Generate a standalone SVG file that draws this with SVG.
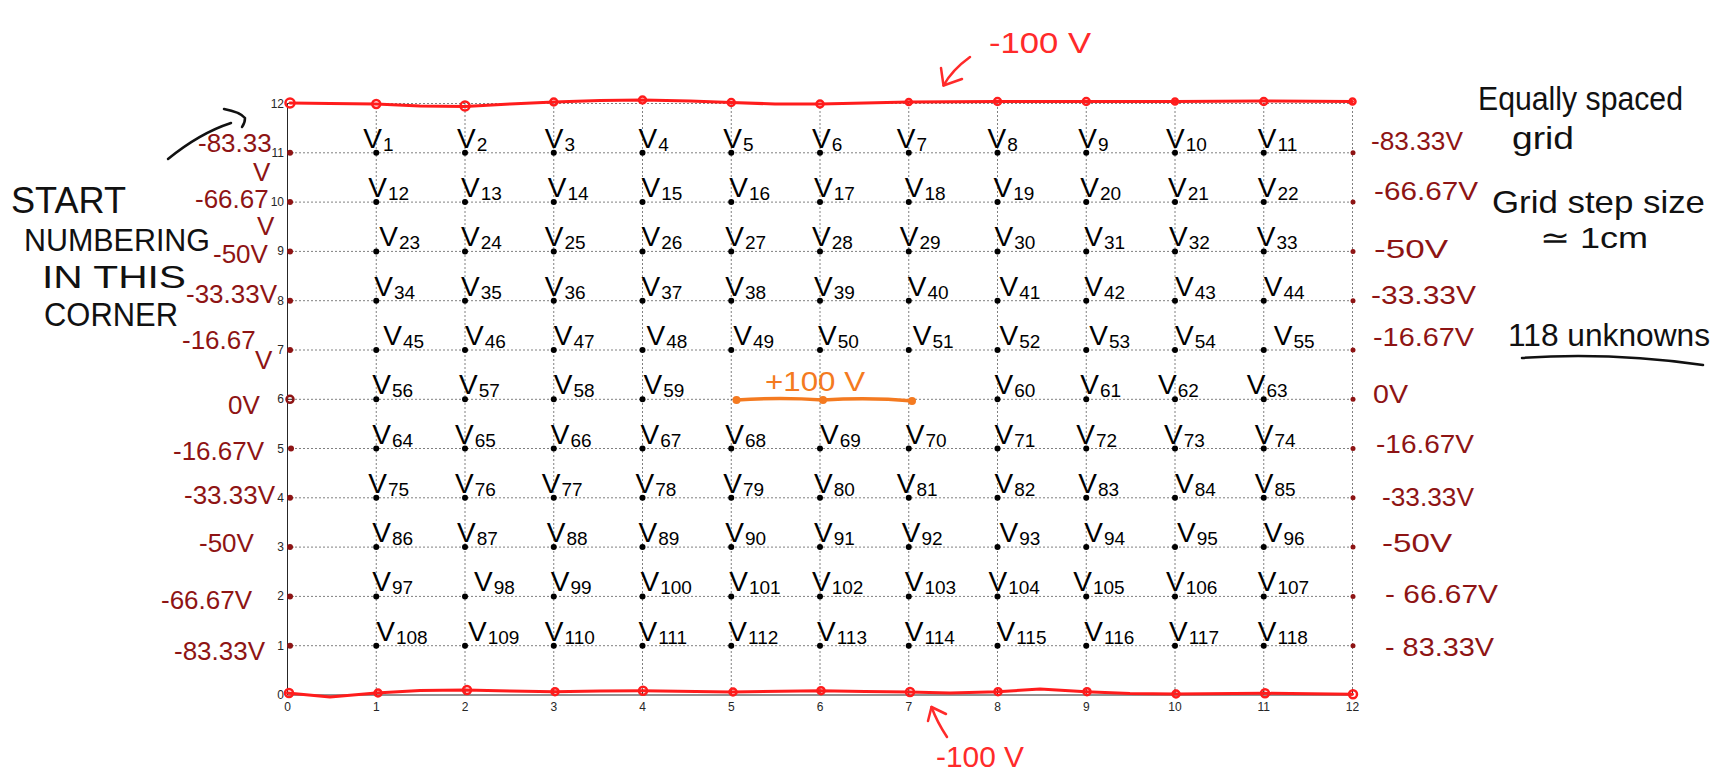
<svg xmlns="http://www.w3.org/2000/svg" width="1727" height="780" viewBox="0 0 1727 780">
<style>
.g{stroke:#000;stroke-width:1;stroke-dasharray:1 3;fill:none}
.ax{stroke:#262626;stroke-width:1;fill:none}
.tk{font-family:"Liberation Sans",Arial,sans-serif;font-size:12px;fill:#262626}
.tr{text-anchor:end}
.tc{text-anchor:middle}
.bnd{stroke:#ff1c1c;stroke-width:3;fill:none;stroke-linejoin:round;stroke-linecap:round}
.bc{stroke:#ff1c1c;stroke-width:2.5;fill:none}
.dr{fill:#8e1414}
.drt{font-family:"Liberation Sans",Arial,sans-serif;font-size:26px;fill:#8e1414}
.nd{fill:#000}
.vl{font-family:"Liberation Sans",Arial,sans-serif;font-size:28px;fill:#000}
.sb{font-size:19px}
.hw{font-family:"Liberation Sans",Arial,sans-serif;fill:#111}
.rt{font-family:"Liberation Sans",Arial,sans-serif;font-size:30px;fill:#ff2a2a}
.ot{font-family:"Liberation Sans",Arial,sans-serif;font-size:28px;fill:#f47a20}
.ar{stroke:#ff2a2a;stroke-width:2.5;fill:none;stroke-linecap:round;stroke-linejoin:round}
.ak{stroke:#111;stroke-width:2.5;fill:none;stroke-linecap:round;stroke-linejoin:round}
</style>
<rect width="1727" height="780" fill="#fff"/>

<g id="grid">
<path class="g" d="M376.25,103.5V695M465,103.5V695M553.75,103.5V695M642.5,103.5V695M731.25,103.5V695M820,103.5V695M908.75,103.5V695M997.5,103.5V695M1086.25,103.5V695M1175,103.5V695M1263.75,103.5V695M1352.5,103.5V695"/>
<path class="g" d="M287.5,645.7H1352.5M287.5,596.4H1352.5M287.5,547.1H1352.5M287.5,497.8H1352.5M287.5,448.5H1352.5M287.5,399.3H1352.5M287.5,350H1352.5M287.5,300.7H1352.5M287.5,251.4H1352.5M287.5,202.1H1352.5M287.5,152.8H1352.5M287.5,103.5H1352.5"/>
</g>

<g id="axes">
<path class="ax" d="M287.5,103.5V695H1352.5"/>
<path class="ax" d="M376.25,695v-6M465,695v-6M553.75,695v-6M642.5,695v-6M731.25,695v-6M820,695v-6M908.75,695v-6M997.5,695v-6M1086.25,695v-6M1175,695v-6M1263.75,695v-6M1352.5,695v-6"/>
<path class="ax" d="M287.5,645.7h6M287.5,596.4h6M287.5,547.1h6M287.5,497.8h6M287.5,448.5h6M287.5,399.3h6M287.5,350h6M287.5,300.7h6M287.5,251.4h6M287.5,202.1h6M287.5,152.8h6M287.5,103.5h6"/>
<g class="tk tr">
<text x="284" y="699">0</text><text x="284" y="649.7">1</text><text x="284" y="600.4">2</text><text x="284" y="551.1">3</text><text x="284" y="501.8">4</text><text x="284" y="452.5">5</text><text x="284" y="403.3">6</text><text x="284" y="354">7</text><text x="284" y="304.7">8</text><text x="284" y="255.4">9</text><text x="284" y="206.1">10</text><text x="284" y="156.8">11</text><text x="284" y="107.5">12</text>
</g>
<g class="tk tc">
<text x="287.5" y="711">0</text><text x="376.25" y="711">1</text><text x="465" y="711">2</text><text x="553.75" y="711">3</text><text x="642.5" y="711">4</text><text x="731.25" y="711">5</text><text x="820" y="711">6</text><text x="908.75" y="711">7</text><text x="997.5" y="711">8</text><text x="1086.25" y="711">9</text><text x="1175" y="711">10</text><text x="1263.75" y="711">11</text><text x="1352.5" y="711">12</text>
</g>
</g>

<g id="top-boundary">
<path class="bnd" d="M290,103 L330,103.5 L376,104 L420,106 L465,106.5 L510,104 L554,102 L600,100.5 L642.5,100 L690,101 L731,102.5 L775,104 L820,104 L865,103 L908.8,102 L950,101.8 L997.5,101.5 L1086,101.5 L1175,101.5 L1264,101 L1352.5,101.5"/>
<circle class="bc" cx="290" cy="103" r="4.5"/><circle class="bc" cx="376.25" cy="104" r="4"/><circle class="bc" cx="465" cy="106" r="4.5"/><circle class="bc" cx="553.75" cy="102" r="3.5"/><circle class="bc" cx="642.5" cy="100" r="3.5"/><circle class="bc" cx="731.25" cy="102.5" r="3.5"/><circle class="bc" cx="820" cy="104" r="3.5"/><circle class="bc" cx="908.75" cy="102" r="3"/><circle class="bc" cx="997.5" cy="101.5" r="3.5"/><circle class="bc" cx="1086.25" cy="101.5" r="3.5"/><circle class="bc" cx="1175" cy="101.5" r="3"/><circle class="bc" cx="1263.75" cy="101.5" r="3.5"/><circle class="bc" cx="1352.5" cy="101.5" r="3"/>
</g>

<g id="bottom-boundary">
<path class="bnd" d="M287.5,693 L330,697 L376,693 L420,690.5 L465,690 L510,691 L554,691.7 L600,691 L642.5,690.7 L731,692 L820,690.7 L865,691.5 L908.8,692 L950,693 L997.5,691.7 L1040,689 L1086,691.7 L1130,693.5 L1175,694 L1264,693.3 L1352.5,694.3"/>
<circle class="bc" cx="289" cy="693" r="4"/><circle class="bc" cx="378" cy="693" r="3.5"/><circle class="bc" cx="467" cy="690" r="4"/><circle class="bc" cx="555" cy="691.7" r="3.5"/><circle class="bc" cx="643" cy="690.7" r="4"/><circle class="bc" cx="733" cy="692" r="3.5"/><circle class="bc" cx="821" cy="690.7" r="3.5"/><circle class="bc" cx="910" cy="692" r="4"/><circle class="bc" cx="998" cy="691.7" r="3.5"/><circle class="bc" cx="1087" cy="691.7" r="3.5"/><circle class="bc" cx="1176" cy="694" r="3.5"/><circle class="bc" cx="1265" cy="693.3" r="4"/><circle class="bc" cx="1353" cy="694.3" r="4"/>
</g>

<g id="left-boundary">
<circle class="dr" cx="290" cy="152.8" r="3"/><circle class="dr" cx="290" cy="202.1" r="3"/><circle class="dr" cx="290" cy="251.4" r="3"/><circle class="dr" cx="290" cy="300.7" r="3"/><circle class="dr" cx="290" cy="350" r="3"/><circle cx="290" cy="399.3" r="3.5" fill="none" stroke="#8e1414" stroke-width="2.5"/><circle class="dr" cx="291" cy="448.5" r="3"/><circle class="dr" cx="290" cy="497.8" r="3"/><circle class="dr" cx="290" cy="547.1" r="3"/><circle class="dr" cx="290" cy="596.4" r="3"/><circle class="dr" cx="290" cy="645.7" r="3"/>
<text class="drt" x="198" y="152" font-size="24">-83.33</text>
<text class="drt" x="253" y="181" font-size="18">V</text>
<text class="drt" x="195" y="208" font-size="25">-66.67</text>
<text class="drt" x="257" y="235" font-size="18">V</text>
<text class="drt" x="213" y="263">-50V</text>
<text class="drt" x="186" y="303" font-size="24">-33.33V</text>
<text class="drt" x="182" y="349">-16.67</text>
<text class="drt" x="255" y="369" font-size="22">V</text>
<text class="drt" x="228" y="414" font-size="30">0V</text>
<text class="drt" x="173" y="460" font-size="28">-16.67V</text>
<text class="drt" x="184" y="504" font-size="25">-33.33V</text>
<text class="drt" x="199" y="552" font-size="28">-50V</text>
<text class="drt" x="161" y="609" font-size="28">-66.67V</text>
<text class="drt" x="174" y="660" font-size="28">-83.33V</text>
</g>

<g id="right-boundary">
<circle class="dr" cx="1353" cy="152.8" r="2.5"/><circle class="dr" cx="1353" cy="202.1" r="2.5"/><circle class="dr" cx="1353" cy="251.4" r="2.5"/><circle class="dr" cx="1353" cy="300.7" r="2.5"/><circle class="dr" cx="1353" cy="350" r="2.5"/><circle class="dr" cx="1353" cy="399.3" r="2.5"/><circle class="dr" cx="1353" cy="448.5" r="2.5"/><circle class="dr" cx="1353" cy="497.8" r="2.5"/><circle class="dr" cx="1353" cy="547.1" r="2.5"/><circle class="dr" cx="1353" cy="596.4" r="2.5"/><circle class="dr" cx="1353" cy="645.7" r="2.5"/>
<text class="drt" x="1371" y="150" textLength="92" lengthAdjust="spacingAndGlyphs">-83.33V</text>
<text class="drt" x="1374" y="200" textLength="104" lengthAdjust="spacingAndGlyphs">-66.67V</text>
<text class="drt" x="1374" y="258" textLength="74" lengthAdjust="spacingAndGlyphs">-50V</text>
<text class="drt" x="1371" y="304" textLength="105" lengthAdjust="spacingAndGlyphs">-33.33V</text>
<text class="drt" x="1373" y="346" textLength="101" lengthAdjust="spacingAndGlyphs">-16.67V</text>
<text class="drt" x="1373" y="403" textLength="35" lengthAdjust="spacingAndGlyphs">0V</text>
<text class="drt" x="1376" y="453" textLength="98" lengthAdjust="spacingAndGlyphs">-16.67V</text>
<text class="drt" x="1382" y="506" textLength="92" lengthAdjust="spacingAndGlyphs">-33.33V</text>
<text class="drt" x="1382" y="552" textLength="70" lengthAdjust="spacingAndGlyphs">-50V</text>
<text class="drt" x="1385" y="603" textLength="113" lengthAdjust="spacingAndGlyphs">- 66.67V</text>
<text class="drt" x="1385" y="656" textLength="109" lengthAdjust="spacingAndGlyphs">- 83.33V</text>
</g>

<g id="source-100V">
<path d="M736.5,400 Q780,397 823,400 Q870,397 913,401" fill="none" stroke="#f47a20" stroke-width="3.5" stroke-linecap="round"/>
<circle cx="736.5" cy="400" r="4" fill="#f47a20"/><circle cx="823" cy="400" r="4" fill="#f47a20"/><circle cx="912" cy="401" r="4" fill="#f47a20"/>
<text class="ot" x="765" y="391" textLength="100" lengthAdjust="spacingAndGlyphs">+100 V</text>
</g>

<g id="nodes">
<g id="v1"><circle class="nd" cx="376.25" cy="152.8" r="3"/><text class="vl" x="363.3" y="147.8">V<tspan class="sb" dx="1" dy="3">1</tspan></text></g>
<g id="v2"><circle class="nd" cx="465" cy="152.8" r="3"/><text class="vl" x="457" y="147.8">V<tspan class="sb" dx="1" dy="3">2</tspan></text></g>
<g id="v3"><circle class="nd" cx="553.75" cy="152.8" r="3"/><text class="vl" x="544.8" y="147.8">V<tspan class="sb" dx="1" dy="3">3</tspan></text></g>
<g id="v4"><circle class="nd" cx="642.5" cy="152.8" r="3"/><text class="vl" x="638.5" y="147.8">V<tspan class="sb" dx="1" dy="3">4</tspan></text></g>
<g id="v5"><circle class="nd" cx="731.25" cy="152.8" r="3"/><text class="vl" x="723.3" y="147.8">V<tspan class="sb" dx="1" dy="3">5</tspan></text></g>
<g id="v6"><circle class="nd" cx="820" cy="152.8" r="3"/><text class="vl" x="812" y="147.8">V<tspan class="sb" dx="1" dy="3">6</tspan></text></g>
<g id="v7"><circle class="nd" cx="908.75" cy="152.8" r="3"/><text class="vl" x="896.8" y="147.8">V<tspan class="sb" dx="1" dy="3">7</tspan></text></g>
<g id="v8"><circle class="nd" cx="997.5" cy="152.8" r="3"/><text class="vl" x="987.5" y="147.8">V<tspan class="sb" dx="1" dy="3">8</tspan></text></g>
<g id="v9"><circle class="nd" cx="1086.25" cy="152.8" r="3"/><text class="vl" x="1078.3" y="147.8">V<tspan class="sb" dx="1" dy="3">9</tspan></text></g>
<g id="v10"><circle class="nd" cx="1175" cy="152.8" r="3"/><text class="vl" x="1166" y="147.8">V<tspan class="sb" dx="1" dy="3">10</tspan></text></g>
<g id="v11"><circle class="nd" cx="1263.75" cy="152.8" r="3"/><text class="vl" x="1257.8" y="147.8">V<tspan class="sb" dx="1" dy="3">11</tspan></text></g>

<g id="v12"><circle class="nd" cx="376.25" cy="202.1" r="3"/><text class="vl" x="368.3" y="197.1">V<tspan class="sb" dx="1" dy="3">12</tspan></text></g>
<g id="v13"><circle class="nd" cx="465" cy="202.1" r="3"/><text class="vl" x="461" y="197.1">V<tspan class="sb" dx="1" dy="3">13</tspan></text></g>
<g id="v14"><circle class="nd" cx="553.75" cy="202.1" r="3"/><text class="vl" x="547.8" y="197.1">V<tspan class="sb" dx="1" dy="3">14</tspan></text></g>
<g id="v15"><circle class="nd" cx="642.5" cy="202.1" r="3"/><text class="vl" x="641.5" y="197.1">V<tspan class="sb" dx="1" dy="3">15</tspan></text></g>
<g id="v16"><circle class="nd" cx="731.25" cy="202.1" r="3"/><text class="vl" x="729.3" y="197.1">V<tspan class="sb" dx="1" dy="3">16</tspan></text></g>
<g id="v17"><circle class="nd" cx="820" cy="202.1" r="3"/><text class="vl" x="814" y="197.1">V<tspan class="sb" dx="1" dy="3">17</tspan></text></g>
<g id="v18"><circle class="nd" cx="908.75" cy="202.1" r="3"/><text class="vl" x="904.8" y="197.1">V<tspan class="sb" dx="1" dy="3">18</tspan></text></g>
<g id="v19"><circle class="nd" cx="997.5" cy="202.1" r="3"/><text class="vl" x="993.5" y="197.1">V<tspan class="sb" dx="1" dy="3">19</tspan></text></g>
<g id="v20"><circle class="nd" cx="1086.25" cy="202.1" r="3"/><text class="vl" x="1080.3" y="197.1">V<tspan class="sb" dx="1" dy="3">20</tspan></text></g>
<g id="v21"><circle class="nd" cx="1175" cy="202.1" r="3"/><text class="vl" x="1168" y="197.1">V<tspan class="sb" dx="1" dy="3">21</tspan></text></g>
<g id="v22"><circle class="nd" cx="1263.75" cy="202.1" r="3"/><text class="vl" x="1257.8" y="197.1">V<tspan class="sb" dx="1" dy="3">22</tspan></text></g>

<g id="v23"><circle class="nd" cx="376.25" cy="251.4" r="3"/><text class="vl" x="379.3" y="246.4">V<tspan class="sb" dx="1" dy="3">23</tspan></text></g>
<g id="v24"><circle class="nd" cx="465" cy="251.4" r="3"/><text class="vl" x="461" y="246.4">V<tspan class="sb" dx="1" dy="3">24</tspan></text></g>
<g id="v25"><circle class="nd" cx="553.75" cy="251.4" r="3"/><text class="vl" x="544.8" y="246.4">V<tspan class="sb" dx="1" dy="3">25</tspan></text></g>
<g id="v26"><circle class="nd" cx="642.5" cy="251.4" r="3"/><text class="vl" x="641.5" y="246.4">V<tspan class="sb" dx="1" dy="3">26</tspan></text></g>
<g id="v27"><circle class="nd" cx="731.25" cy="251.4" r="3"/><text class="vl" x="725.3" y="246.4">V<tspan class="sb" dx="1" dy="3">27</tspan></text></g>
<g id="v28"><circle class="nd" cx="820" cy="251.4" r="3"/><text class="vl" x="812" y="246.4">V<tspan class="sb" dx="1" dy="3">28</tspan></text></g>
<g id="v29"><circle class="nd" cx="908.75" cy="251.4" r="3"/><text class="vl" x="899.8" y="246.4">V<tspan class="sb" dx="1" dy="3">29</tspan></text></g>
<g id="v30"><circle class="nd" cx="997.5" cy="251.4" r="3"/><text class="vl" x="994.5" y="246.4">V<tspan class="sb" dx="1" dy="3">30</tspan></text></g>
<g id="v31"><circle class="nd" cx="1086.25" cy="251.4" r="3"/><text class="vl" x="1084.3" y="246.4">V<tspan class="sb" dx="1" dy="3">31</tspan></text></g>
<g id="v32"><circle class="nd" cx="1175" cy="251.4" r="3"/><text class="vl" x="1169" y="246.4">V<tspan class="sb" dx="1" dy="3">32</tspan></text></g>
<g id="v33"><circle class="nd" cx="1263.75" cy="251.4" r="3"/><text class="vl" x="1256.8" y="246.4">V<tspan class="sb" dx="1" dy="3">33</tspan></text></g>

<g id="v34"><circle class="nd" cx="376.25" cy="300.7" r="3"/><text class="vl" x="374.3" y="295.7">V<tspan class="sb" dx="1" dy="3">34</tspan></text></g>
<g id="v35"><circle class="nd" cx="465" cy="300.7" r="3"/><text class="vl" x="461" y="295.7">V<tspan class="sb" dx="1" dy="3">35</tspan></text></g>
<g id="v36"><circle class="nd" cx="553.75" cy="300.7" r="3"/><text class="vl" x="544.8" y="295.7">V<tspan class="sb" dx="1" dy="3">36</tspan></text></g>
<g id="v37"><circle class="nd" cx="642.5" cy="300.7" r="3"/><text class="vl" x="641.5" y="295.7">V<tspan class="sb" dx="1" dy="3">37</tspan></text></g>
<g id="v38"><circle class="nd" cx="731.25" cy="300.7" r="3"/><text class="vl" x="725.3" y="295.7">V<tspan class="sb" dx="1" dy="3">38</tspan></text></g>
<g id="v39"><circle class="nd" cx="820" cy="300.7" r="3"/><text class="vl" x="814" y="295.7">V<tspan class="sb" dx="1" dy="3">39</tspan></text></g>
<g id="v40"><circle class="nd" cx="908.75" cy="300.7" r="3"/><text class="vl" x="907.8" y="295.7">V<tspan class="sb" dx="1" dy="3">40</tspan></text></g>
<g id="v41"><circle class="nd" cx="997.5" cy="300.7" r="3"/><text class="vl" x="999.5" y="295.7">V<tspan class="sb" dx="1" dy="3">41</tspan></text></g>
<g id="v42"><circle class="nd" cx="1086.25" cy="300.7" r="3"/><text class="vl" x="1084.3" y="295.7">V<tspan class="sb" dx="1" dy="3">42</tspan></text></g>
<g id="v43"><circle class="nd" cx="1175" cy="300.7" r="3"/><text class="vl" x="1175" y="295.7">V<tspan class="sb" dx="1" dy="3">43</tspan></text></g>
<g id="v44"><circle class="nd" cx="1263.75" cy="300.7" r="3"/><text class="vl" x="1263.8" y="295.7">V<tspan class="sb" dx="1" dy="3">44</tspan></text></g>

<g id="v45"><circle class="nd" cx="376.25" cy="350" r="3"/><text class="vl" x="383.3" y="345">V<tspan class="sb" dx="1" dy="3">45</tspan></text></g>
<g id="v46"><circle class="nd" cx="465" cy="350" r="3"/><text class="vl" x="465" y="345">V<tspan class="sb" dx="1" dy="3">46</tspan></text></g>
<g id="v47"><circle class="nd" cx="553.75" cy="350" r="3"/><text class="vl" x="553.8" y="345">V<tspan class="sb" dx="1" dy="3">47</tspan></text></g>
<g id="v48"><circle class="nd" cx="642.5" cy="350" r="3"/><text class="vl" x="646.5" y="345">V<tspan class="sb" dx="1" dy="3">48</tspan></text></g>
<g id="v49"><circle class="nd" cx="731.25" cy="350" r="3"/><text class="vl" x="733.3" y="345">V<tspan class="sb" dx="1" dy="3">49</tspan></text></g>
<g id="v50"><circle class="nd" cx="820" cy="350" r="3"/><text class="vl" x="818" y="345">V<tspan class="sb" dx="1" dy="3">50</tspan></text></g>
<g id="v51"><circle class="nd" cx="908.75" cy="350" r="3"/><text class="vl" x="912.8" y="345">V<tspan class="sb" dx="1" dy="3">51</tspan></text></g>
<g id="v52"><circle class="nd" cx="997.5" cy="350" r="3"/><text class="vl" x="999.5" y="345">V<tspan class="sb" dx="1" dy="3">52</tspan></text></g>
<g id="v53"><circle class="nd" cx="1086.25" cy="350" r="3"/><text class="vl" x="1089.3" y="345">V<tspan class="sb" dx="1" dy="3">53</tspan></text></g>
<g id="v54"><circle class="nd" cx="1175" cy="350" r="3"/><text class="vl" x="1175" y="345">V<tspan class="sb" dx="1" dy="3">54</tspan></text></g>
<g id="v55"><circle class="nd" cx="1263.75" cy="350" r="3"/><text class="vl" x="1273.8" y="345">V<tspan class="sb" dx="1" dy="3">55</tspan></text></g>

<g id="v56"><circle class="nd" cx="376.25" cy="399.3" r="3"/><text class="vl" x="372.3" y="394.3">V<tspan class="sb" dx="1" dy="3">56</tspan></text></g>
<g id="v57"><circle class="nd" cx="465" cy="399.3" r="3"/><text class="vl" x="459" y="394.3">V<tspan class="sb" dx="1" dy="3">57</tspan></text></g>
<g id="v58"><circle class="nd" cx="553.75" cy="399.3" r="3"/><text class="vl" x="553.8" y="394.3">V<tspan class="sb" dx="1" dy="3">58</tspan></text></g>
<g id="v59"><circle class="nd" cx="642.5" cy="399.3" r="3"/><text class="vl" x="643.5" y="394.3">V<tspan class="sb" dx="1" dy="3">59</tspan></text></g>
<g id="v60"><circle class="nd" cx="997.5" cy="399.3" r="3"/><text class="vl" x="994.5" y="394.3">V<tspan class="sb" dx="1" dy="3">60</tspan></text></g>
<g id="v61"><circle class="nd" cx="1086.25" cy="399.3" r="3"/><text class="vl" x="1080.3" y="394.3">V<tspan class="sb" dx="1" dy="3">61</tspan></text></g>
<g id="v62"><circle class="nd" cx="1175" cy="399.3" r="3"/><text class="vl" x="1158" y="394.3">V<tspan class="sb" dx="1" dy="3">62</tspan></text></g>
<g id="v63"><circle class="nd" cx="1263.75" cy="399.3" r="3"/><text class="vl" x="1246.8" y="394.3">V<tspan class="sb" dx="1" dy="3">63</tspan></text></g>

<g id="v64"><circle class="nd" cx="376.25" cy="448.5" r="3"/><text class="vl" x="372.3" y="443.5">V<tspan class="sb" dx="1" dy="3">64</tspan></text></g>
<g id="v65"><circle class="nd" cx="465" cy="448.5" r="3"/><text class="vl" x="455" y="443.5">V<tspan class="sb" dx="1" dy="3">65</tspan></text></g>
<g id="v66"><circle class="nd" cx="553.75" cy="448.5" r="3"/><text class="vl" x="550.8" y="443.5">V<tspan class="sb" dx="1" dy="3">66</tspan></text></g>
<g id="v67"><circle class="nd" cx="642.5" cy="448.5" r="3"/><text class="vl" x="640.5" y="443.5">V<tspan class="sb" dx="1" dy="3">67</tspan></text></g>
<g id="v68"><circle class="nd" cx="731.25" cy="448.5" r="3"/><text class="vl" x="725.3" y="443.5">V<tspan class="sb" dx="1" dy="3">68</tspan></text></g>
<g id="v69"><circle class="nd" cx="820" cy="448.5" r="3"/><text class="vl" x="820" y="443.5">V<tspan class="sb" dx="1" dy="3">69</tspan></text></g>
<g id="v70"><circle class="nd" cx="908.75" cy="448.5" r="3"/><text class="vl" x="905.8" y="443.5">V<tspan class="sb" dx="1" dy="3">70</tspan></text></g>
<g id="v71"><circle class="nd" cx="997.5" cy="448.5" r="3"/><text class="vl" x="994.5" y="443.5">V<tspan class="sb" dx="1" dy="3">71</tspan></text></g>
<g id="v72"><circle class="nd" cx="1086.25" cy="448.5" r="3"/><text class="vl" x="1076.3" y="443.5">V<tspan class="sb" dx="1" dy="3">72</tspan></text></g>
<g id="v73"><circle class="nd" cx="1175" cy="448.5" r="3"/><text class="vl" x="1164" y="443.5">V<tspan class="sb" dx="1" dy="3">73</tspan></text></g>
<g id="v74"><circle class="nd" cx="1263.75" cy="448.5" r="3"/><text class="vl" x="1254.8" y="443.5">V<tspan class="sb" dx="1" dy="3">74</tspan></text></g>

<g id="v75"><circle class="nd" cx="376.25" cy="497.8" r="3"/><text class="vl" x="368.3" y="492.8">V<tspan class="sb" dx="1" dy="3">75</tspan></text></g>
<g id="v76"><circle class="nd" cx="465" cy="497.8" r="3"/><text class="vl" x="455" y="492.8">V<tspan class="sb" dx="1" dy="3">76</tspan></text></g>
<g id="v77"><circle class="nd" cx="553.75" cy="497.8" r="3"/><text class="vl" x="541.8" y="492.8">V<tspan class="sb" dx="1" dy="3">77</tspan></text></g>
<g id="v78"><circle class="nd" cx="642.5" cy="497.8" r="3"/><text class="vl" x="635.5" y="492.8">V<tspan class="sb" dx="1" dy="3">78</tspan></text></g>
<g id="v79"><circle class="nd" cx="731.25" cy="497.8" r="3"/><text class="vl" x="723.3" y="492.8">V<tspan class="sb" dx="1" dy="3">79</tspan></text></g>
<g id="v80"><circle class="nd" cx="820" cy="497.8" r="3"/><text class="vl" x="814" y="492.8">V<tspan class="sb" dx="1" dy="3">80</tspan></text></g>
<g id="v81"><circle class="nd" cx="908.75" cy="497.8" r="3"/><text class="vl" x="896.8" y="492.8">V<tspan class="sb" dx="1" dy="3">81</tspan></text></g>
<g id="v82"><circle class="nd" cx="997.5" cy="497.8" r="3"/><text class="vl" x="994.5" y="492.8">V<tspan class="sb" dx="1" dy="3">82</tspan></text></g>
<g id="v83"><circle class="nd" cx="1086.25" cy="497.8" r="3"/><text class="vl" x="1078.3" y="492.8">V<tspan class="sb" dx="1" dy="3">83</tspan></text></g>
<g id="v84"><circle class="nd" cx="1175" cy="497.8" r="3"/><text class="vl" x="1175" y="492.8">V<tspan class="sb" dx="1" dy="3">84</tspan></text></g>
<g id="v85"><circle class="nd" cx="1263.75" cy="497.8" r="3"/><text class="vl" x="1254.8" y="492.8">V<tspan class="sb" dx="1" dy="3">85</tspan></text></g>

<g id="v86"><circle class="nd" cx="376.25" cy="547.1" r="3"/><text class="vl" x="372.3" y="542.1">V<tspan class="sb" dx="1" dy="3">86</tspan></text></g>
<g id="v87"><circle class="nd" cx="465" cy="547.1" r="3"/><text class="vl" x="457" y="542.1">V<tspan class="sb" dx="1" dy="3">87</tspan></text></g>
<g id="v88"><circle class="nd" cx="553.75" cy="547.1" r="3"/><text class="vl" x="546.8" y="542.1">V<tspan class="sb" dx="1" dy="3">88</tspan></text></g>
<g id="v89"><circle class="nd" cx="642.5" cy="547.1" r="3"/><text class="vl" x="638.5" y="542.1">V<tspan class="sb" dx="1" dy="3">89</tspan></text></g>
<g id="v90"><circle class="nd" cx="731.25" cy="547.1" r="3"/><text class="vl" x="725.3" y="542.1">V<tspan class="sb" dx="1" dy="3">90</tspan></text></g>
<g id="v91"><circle class="nd" cx="820" cy="547.1" r="3"/><text class="vl" x="814" y="542.1">V<tspan class="sb" dx="1" dy="3">91</tspan></text></g>
<g id="v92"><circle class="nd" cx="908.75" cy="547.1" r="3"/><text class="vl" x="901.8" y="542.1">V<tspan class="sb" dx="1" dy="3">92</tspan></text></g>
<g id="v93"><circle class="nd" cx="997.5" cy="547.1" r="3"/><text class="vl" x="999.5" y="542.1">V<tspan class="sb" dx="1" dy="3">93</tspan></text></g>
<g id="v94"><circle class="nd" cx="1086.25" cy="547.1" r="3"/><text class="vl" x="1084.3" y="542.1">V<tspan class="sb" dx="1" dy="3">94</tspan></text></g>
<g id="v95"><circle class="nd" cx="1175" cy="547.1" r="3"/><text class="vl" x="1177" y="542.1">V<tspan class="sb" dx="1" dy="3">95</tspan></text></g>
<g id="v96"><circle class="nd" cx="1263.75" cy="547.1" r="3"/><text class="vl" x="1263.8" y="542.1">V<tspan class="sb" dx="1" dy="3">96</tspan></text></g>

<g id="v97"><circle class="nd" cx="376.25" cy="596.4" r="3"/><text class="vl" x="372.3" y="591.4">V<tspan class="sb" dx="1" dy="3">97</tspan></text></g>
<g id="v98"><circle class="nd" cx="465" cy="596.4" r="3"/><text class="vl" x="474" y="591.4">V<tspan class="sb" dx="1" dy="3">98</tspan></text></g>
<g id="v99"><circle class="nd" cx="553.75" cy="596.4" r="3"/><text class="vl" x="550.8" y="591.4">V<tspan class="sb" dx="1" dy="3">99</tspan></text></g>
<g id="v100"><circle class="nd" cx="642.5" cy="596.4" r="3"/><text class="vl" x="640.5" y="591.4">V<tspan class="sb" dx="1" dy="3">100</tspan></text></g>
<g id="v101"><circle class="nd" cx="731.25" cy="596.4" r="3"/><text class="vl" x="729.3" y="591.4">V<tspan class="sb" dx="1" dy="3">101</tspan></text></g>
<g id="v102"><circle class="nd" cx="820" cy="596.4" r="3"/><text class="vl" x="812" y="591.4">V<tspan class="sb" dx="1" dy="3">102</tspan></text></g>
<g id="v103"><circle class="nd" cx="908.75" cy="596.4" r="3"/><text class="vl" x="904.8" y="591.4">V<tspan class="sb" dx="1" dy="3">103</tspan></text></g>
<g id="v104"><circle class="nd" cx="997.5" cy="596.4" r="3"/><text class="vl" x="988.5" y="591.4">V<tspan class="sb" dx="1" dy="3">104</tspan></text></g>
<g id="v105"><circle class="nd" cx="1086.25" cy="596.4" r="3"/><text class="vl" x="1073.3" y="591.4">V<tspan class="sb" dx="1" dy="3">105</tspan></text></g>
<g id="v106"><circle class="nd" cx="1175" cy="596.4" r="3"/><text class="vl" x="1166" y="591.4">V<tspan class="sb" dx="1" dy="3">106</tspan></text></g>
<g id="v107"><circle class="nd" cx="1263.75" cy="596.4" r="3"/><text class="vl" x="1257.8" y="591.4">V<tspan class="sb" dx="1" dy="3">107</tspan></text></g>

<g id="v108"><circle class="nd" cx="376.25" cy="645.7" r="3"/><text class="vl" x="376.3" y="640.7">V<tspan class="sb" dx="1" dy="3">108</tspan></text></g>
<g id="v109"><circle class="nd" cx="465" cy="645.7" r="3"/><text class="vl" x="468" y="640.7">V<tspan class="sb" dx="1" dy="3">109</tspan></text></g>
<g id="v110"><circle class="nd" cx="553.75" cy="645.7" r="3"/><text class="vl" x="544.8" y="640.7">V<tspan class="sb" dx="1" dy="3">110</tspan></text></g>
<g id="v111"><circle class="nd" cx="642.5" cy="645.7" r="3"/><text class="vl" x="638.5" y="640.7">V<tspan class="sb" dx="1" dy="3">111</tspan></text></g>
<g id="v112"><circle class="nd" cx="731.25" cy="645.7" r="3"/><text class="vl" x="728.3" y="640.7">V<tspan class="sb" dx="1" dy="3">112</tspan></text></g>
<g id="v113"><circle class="nd" cx="820" cy="645.7" r="3"/><text class="vl" x="817" y="640.7">V<tspan class="sb" dx="1" dy="3">113</tspan></text></g>
<g id="v114"><circle class="nd" cx="908.75" cy="645.7" r="3"/><text class="vl" x="904.8" y="640.7">V<tspan class="sb" dx="1" dy="3">114</tspan></text></g>
<g id="v115"><circle class="nd" cx="997.5" cy="645.7" r="3"/><text class="vl" x="996.5" y="640.7">V<tspan class="sb" dx="1" dy="3">115</tspan></text></g>
<g id="v116"><circle class="nd" cx="1086.25" cy="645.7" r="3"/><text class="vl" x="1084.3" y="640.7">V<tspan class="sb" dx="1" dy="3">116</tspan></text></g>
<g id="v117"><circle class="nd" cx="1175" cy="645.7" r="3"/><text class="vl" x="1169" y="640.7">V<tspan class="sb" dx="1" dy="3">117</tspan></text></g>
<g id="v118"><circle class="nd" cx="1263.75" cy="645.7" r="3"/><text class="vl" x="1257.8" y="640.7">V<tspan class="sb" dx="1" dy="3">118</tspan></text></g>
</g>

<g id="connectors">
<path class="ar" d="M970,57 Q952,70 943.5,85.5"/>
<path class="ar" d="M941,68 L943.5,85.5 L962,79"/>
<path class="ar" d="M947,737 Q937,722 931.5,707"/>
<path class="ar" d="M928,721 L931.5,707 L946,714"/>
<path class="ak" d="M168,159 Q200,133 231,123"/>
<path class="ak" d="M224,109 Q240,112 245,118 Q245,123 242,127"/>
</g>

<g id="annotations">
<text class="rt" x="989" y="53" textLength="102" lengthAdjust="spacingAndGlyphs">-100 V</text>
<text class="rt" x="936" y="767" textLength="88" lengthAdjust="spacingAndGlyphs">-100 V</text>
<text class="hw" x="11" y="213" font-size="36" textLength="115" lengthAdjust="spacingAndGlyphs">START</text>
<text class="hw" x="24" y="251" font-size="32" textLength="186" lengthAdjust="spacingAndGlyphs">NUMBERING</text>
<text class="hw" x="42" y="288" font-size="31" textLength="144" lengthAdjust="spacingAndGlyphs">IN THIS</text>
<text class="hw" x="44" y="326" font-size="33" textLength="134" lengthAdjust="spacingAndGlyphs">CORNER</text>
<text class="hw" x="1478" y="110" font-size="34" textLength="205" lengthAdjust="spacingAndGlyphs">Equally spaced</text>
<text class="hw" x="1512" y="149" font-size="32" textLength="62" lengthAdjust="spacingAndGlyphs">grid</text>
<text class="hw" x="1492" y="213" font-size="32" textLength="213" lengthAdjust="spacingAndGlyphs">Grid step size</text>
<text class="hw" x="1540" y="248" font-size="30" textLength="108" lengthAdjust="spacingAndGlyphs">≃ 1cm</text>
<text class="hw" x="1508" y="346" font-size="32" textLength="202" lengthAdjust="spacingAndGlyphs">118 unknowns</text>
<path d="M1522,358 Q1610,352 1703,365" fill="none" stroke="#111" stroke-width="2.5" stroke-linecap="round"/>
</g>
</svg>
